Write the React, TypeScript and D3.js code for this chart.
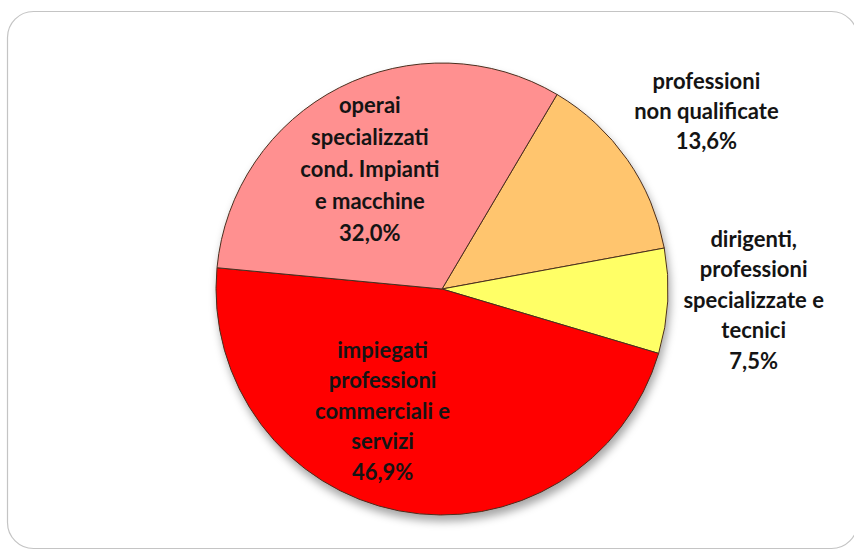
import * as d3 from "d3";

// Slices, clockwise from the orange one at the top right.
const categories = [
  "professioni non qualificate",
  "dirigenti, professioni specializzate e tecnici",
  "impiegati professioni commerciali e servizi",
  "operai specializzati cond. Impianti e macchine",
];
const shares = [13.6, 7.5, 46.9, 32.0];
const labelLines = [
  ["professioni", "non qualificate", "13,6%"],
  ["dirigenti,", "professioni", "specializzate e", "tecnici", "7,5%"],
  ["impiegati", "professioni", "commerciali e", "servizi", "46,9%"],
  ["operai", "specializzati", "cond. Impianti", "e macchine", "32,0%"],
];
const colors = ["#FFC56E", "#FFFF66", "#FF0000", "#FF9090"];

// label placement: radius factor and angle nudge (deg), line height
const labelRadius = [1.41, 1.38, 0.6, 0.62];
const labelNudge = [1, -1, 15, -4];
const lineHeights = [30, 30.5, 30.5, 32];

const width = 854;
const height = 552;
const cx = 442;
const cy = 289;
const r = 226;
const startDeg = 30.6;

export default function App() {
  const pie = d3
    .pie<number>()
    .sort(null)
    .value((d) => d)
    .startAngle((startDeg * Math.PI) / 180)
    .endAngle((startDeg * Math.PI) / 180 + 2 * Math.PI);
  const arcs = pie(shares);
  const arc = d3.arc<d3.PieArcDatum<number>>().innerRadius(0).outerRadius(r);

  return (
    <svg
      width={width}
      height={height}
      style={{ position: "absolute", left: 0, top: 0, background: "#fff" }}
    >
      <defs>
        <filter id="shadow" x="-20%" y="-20%" width="140%" height="140%">
          <feDropShadow dx="2" dy="6" stdDeviation="4" floodColor="#000" floodOpacity="0.35" />
        </filter>
      </defs>
      <rect
        x={7.5}
        y={11.5}
        width={850}
        height={537}
        rx={26}
        fill="#fff"
        stroke="#c4c4c4"
        strokeWidth={1.2}
      />
      <g transform={`translate(${cx},${cy})`}>
        <g filter="url(#shadow)">
          {arcs.map((a, i) => (
            <path
              key={categories[i]}
              d={arc(a) ?? ""}
              fill={colors[i]}
              stroke="#4a2e1e"
              strokeWidth={1}
            />
          ))}
        </g>
        {arcs.map((a, i) => {
          const mid = (a.startAngle + a.endAngle) / 2 + (labelNudge[i] * Math.PI) / 180;
          const rr = r * labelRadius[i];
          const x = rr * Math.sin(mid);
          const y = -rr * Math.cos(mid);
          const lines = labelLines[i];
          const lh = lineHeights[i];
          const y0 = y - ((lines.length - 1) * lh) / 2;
          return (
            <text
              key={categories[i] + "-label"}
              textAnchor="middle"
              fontFamily="Lato, 'Open Sans', sans-serif"
              fontWeight={700}
              fontSize={22}
              fill="#141414"
            >
              {lines.map((t, j) => (
                <tspan key={j} x={x} y={y0 + j * lh} dy="0.35em">
                  {t}
                </tspan>
              ))}
            </text>
          );
        })}
      </g>
    </svg>
  );
}
